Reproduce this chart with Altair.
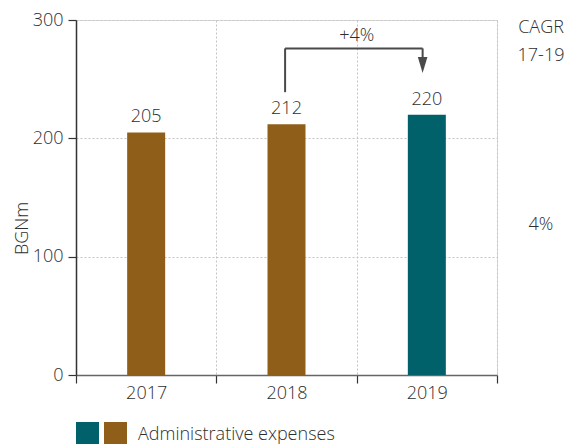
import altair as alt
import pandas as pd

years = ["2017", "2018", "2019"]
values = [205, 212, 220]
kinds = ["past", "past", "current"]
colors_range = ["#8F5F1A", "#00616B"]
y_ticks = [0, 100, 200, 300]
growth_label = "+4%"
cagr_title = ["CAGR", "17-19"]
cagr_value = "4%"
legend_label = "Administrative expenses"
arrow_level = 276
arrow_start = 239
arrow_tip = 262

FONT = "Open Sans"
FS = 18
FW = 300
TXT = "#2e2e2e"

df = pd.DataFrame({"year": years, "value": values, "kind": kinds})

xscale = alt.Scale(domain=years, paddingInner=0, paddingOuter=0)
yscale = alt.Scale(domain=[0, 300], nice=False)
cscale = alt.Scale(domain=["past", "current"], range=colors_range)

base = alt.Chart(df)

bars = base.mark_bar(width=38).encode(
    x=alt.X("year:N", scale=xscale, sort=years, axis=alt.Axis(
        title=None, labelAngle=0, tickBand="extent", tickSize=8, labelPadding=1,
        grid=True, gridDash=[2, 2], gridColor="#c4c4c4", gridWidth=1,
        domainColor="#666666", domainWidth=1.5, tickColor="#333333", tickWidth=1.2,
        labelFont=FONT, labelFontSize=FS, labelColor=TXT, labelFontWeight=FW)),
    y=alt.Y("value:Q", scale=yscale, axis=alt.Axis(
        values=y_ticks, title="BGNm", titleFont=FONT, titleFontSize=FS,
        titleFontWeight=FW, titleColor=TXT, titleAngle=-90, titleX=-49,
        titleY=208, titleAlign="center", titleBaseline="alphabetic",
        tickSize=8, labelPadding=5, grid=True, gridDash=[2, 2],
        gridColor="#c4c4c4", gridWidth=1, domainColor="#333333", domainWidth=1.5,
        tickColor="#333333", tickWidth=1.2,
        labelFont=FONT, labelFontSize=FS, labelColor=TXT, labelFontWeight=FW)),
    color=alt.Color("kind:N", scale=cscale, legend=None),
)

labels = base.mark_text(dy=-6, baseline="bottom", font=FONT, fontSize=FS,
                        fontWeight=FW, fill=TXT).encode(
    x=alt.X("year:N", sort=years),
    y=alt.Y("value:Q"),
    text="value:Q",
)

arr = pd.DataFrame({"x1": ["2018"], "x2": ["2019"], "lvl": [arrow_level],
                    "start": [arrow_start], "tip": [arrow_tip], "lab": [growth_label]})
abase = alt.Chart(arr)
lc = "#4a4a4a"
h_line = abase.mark_rule(color=lc, strokeWidth=2).encode(
    x=alt.X("x1:N", sort=years, bandPosition=0.49),
    x2=alt.X2("x2:N", bandPosition=0.47),
    y=alt.Y("lvl:Q"),
)
v1 = abase.mark_rule(color=lc, strokeWidth=2).encode(
    x=alt.X("x1:N", sort=years, bandPosition=0.49),
    y=alt.Y("lvl:Q"), y2="start:Q",
)
v2 = abase.mark_rule(color=lc, strokeWidth=2).encode(
    x=alt.X("x2:N", sort=years, bandPosition=0.47),
    y=alt.Y("lvl:Q"), y2="tip:Q",
)
head = abase.mark_point(shape="M-0.6,-1 L0.6,-1 L0,1 Z", size=256, filled=True,
                        color=lc, opacity=1).encode(
    x=alt.X("x2:N", sort=years, bandPosition=0.47),
    y=alt.Y("tip:Q"),
)
glab = abase.mark_text(font=FONT, fontSize=FS, fontWeight=FW, fill=TXT,
                       baseline="bottom", dy=-3).encode(
    x=alt.X("x2:N", sort=years, bandPosition=0),
    y=alt.Y("lvl:Q"),
    text="lab:N",
)

cagr = alt.Chart(pd.DataFrame({"t": [cagr_title]})).mark_text(
    font=FONT, fontSize=FS, fontWeight=FW, fill=TXT, align="center",
    baseline="top", lineHeight=28).encode(
    x=alt.value(465), y=alt.value(-1), text="t")
cagr_v = alt.Chart(pd.DataFrame({"t": [cagr_value]})).mark_text(
    font=FONT, fontSize=FS, fontWeight=FW, fill=TXT, align="center",
    baseline="middle").encode(x=alt.value(465), y=alt.value(205), text="t")

leg_a = alt.Chart(pd.DataFrame({"kind": ["current"]})).mark_rect().encode(
    x=alt.value(0), x2=alt.value(23), y=alt.value(402), y2=alt.value(424),
    color=alt.Color("kind:N", scale=cscale, legend=None),
)
leg_b = alt.Chart(pd.DataFrame({"kind": ["past"]})).mark_rect().encode(
    x=alt.value(28), x2=alt.value(51), y=alt.value(402), y2=alt.value(424),
    color=alt.Color("kind:N", scale=cscale, legend=None),
)
leg_txt = alt.Chart(pd.DataFrame({"t": [legend_label]})).mark_text(
    font=FONT, fontSize=FS, fontWeight=FW, fill=TXT, align="left",
    baseline="alphabetic").encode(x=alt.value(62), y=alt.value(420), text="t")

chart = alt.layer(bars, labels, h_line, v1, v2, head, glab, cagr, cagr_v,
                  leg_a, leg_b, leg_txt).properties(
    width=421, height=355,
    autosize=alt.AutoSizeParams(type="none"),
    padding={"left": 76, "top": 20, "right": 73, "bottom": 69},
).configure_view(stroke=None).configure(background="white")

chart.save("out.html", embed_options={"renderer": "svg", "actions": False})
